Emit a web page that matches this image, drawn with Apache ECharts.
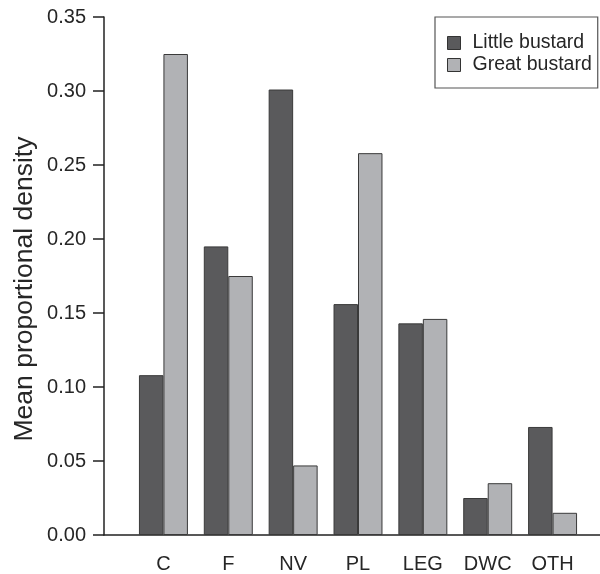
<!DOCTYPE html>
<html>
<head>
<meta charset="utf-8">
<script src="https://cdn.jsdelivr.net/npm/echarts@6/dist/echarts.min.js"></script>
<style>html,body{margin:0;padding:0;background:#fff}#c{width:600px;height:574px}</style>
</head>
<body>
<div id="c"></div>
<script>
var categories = ['C', 'F', 'NV', 'PL', 'LEG', 'DWC', 'OTH'];
var littleBustard = [0.108, 0.195, 0.301, 0.156, 0.143, 0.025, 0.073];
var greatBustard = [0.325, 0.175, 0.047, 0.258, 0.146, 0.035, 0.015];
var yTicks = [0, 0.05, 0.10, 0.15, 0.20, 0.25, 0.30, 0.35];
var seriesNames = ['Little bustard', 'Great bustard'];
var yTitle = 'Mean proportional density';

var FONT = 'Liberation Sans, Arial, sans-serif';
var TXT = '#262626';
var chart = echarts.init(document.getElementById('c'), null, {renderer: 'canvas'});
chart.setOption({
  animation: false,
  backgroundColor: '#fff',
  grid: [
    {left: 131, right: 15, top: 17, bottom: 39},
    {left: 104, right: 0, top: 17, bottom: 39}
  ],
  legend: {
    orient: 'vertical',
    left: 435, top: 17,
    padding: [15, 6, 12, 12],
    itemGap: 0,
    itemWidth: 13, itemHeight: 13,
    borderColor: '#555', borderWidth: 1.2,
    icon: 'rect',
    itemStyle: {borderColor: '#333', borderWidth: 1},
    textStyle: {fontFamily: FONT, fontSize: 19.5, color: TXT, lineHeight: 22, padding: [0, 0, 0, 7]},
    data: seriesNames
  },
  xAxis: [
    {type: 'category', gridIndex: 0, data: categories,
     axisLine: {show: false}, axisTick: {show: false},
     axisLabel: {margin: 19, fontFamily: FONT, fontSize: 20, color: TXT}},
    {type: 'value', gridIndex: 1, min: 0, max: 1,
     axisLine: {show: true, onZero: false, lineStyle: {color: '#222', width: 1.5}},
     axisTick: {show: false}, axisLabel: {show: false}, splitLine: {show: false}}
  ],
  yAxis: [
    {type: 'value', gridIndex: 0, min: 0, max: 0.35, interval: 0.05, show: false, splitLine: {show: false}},
    {type: 'value', gridIndex: 1, min: 0, max: 0.35, interval: 0.05,
     axisLine: {show: true, lineStyle: {color: '#222', width: 1.5}},
     axisTick: {show: true, inside: false, length: 11, lineStyle: {color: '#222', width: 1.5}},
     splitLine: {show: false},
     axisLabel: {margin: 18, fontFamily: FONT, fontSize: 20, color: TXT,
       formatter: function (v) { return v.toFixed(2); }}}
  ],
  graphic: [{
    type: 'text', x: 25, y: 289, rotation: Math.PI / 2,
    style: {text: yTitle, fontFamily: FONT, fontSize: 26.5, fill: TXT, align: 'center', verticalAlign: 'middle'}
  }],
  series: [
    {name: seriesNames[0], type: 'bar', xAxisIndex: 0, yAxisIndex: 0, data: littleBustard,
     barGap: 0, barCategoryGap: '24.5%',
     itemStyle: {color: '#5a5a5c', borderColor: '#3a3a3a', borderWidth: 1}},
    {name: seriesNames[1], type: 'bar', xAxisIndex: 0, yAxisIndex: 0, data: greatBustard,
     barGap: 0, barCategoryGap: '24.5%',
     itemStyle: {color: '#b1b2b5', borderColor: '#3a3a3a', borderWidth: 1}}
  ]
});
</script>
</body>
</html>
